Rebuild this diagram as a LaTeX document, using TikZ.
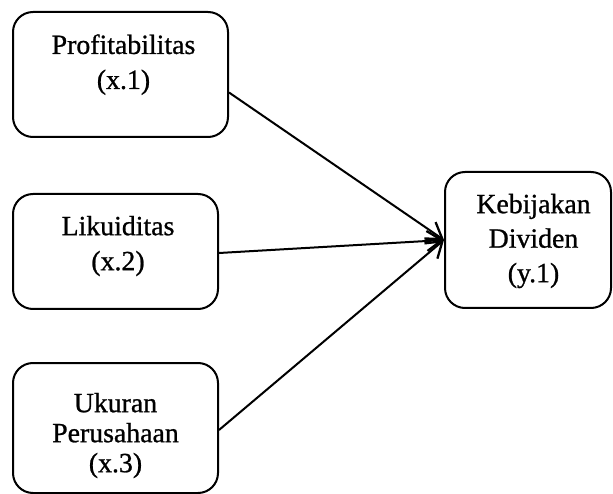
\documentclass[tikz,border=0pt]{standalone}
\usepackage{fontspec}
\setmainfont{Liberation Serif}[RawFeature={embolden=0.9}]
\usetikzlibrary{arrows.meta,positioning}

\begin{document}
\begin{tikzpicture}[x=1pt,y=1pt,line width=2pt,
  varbox/.style={draw,rounded corners=20pt,inner sep=0pt},
  varlbl/.style={align=center,inner sep=0pt,font=\fontsize{27.8}{35}\selectfont},
  >={Straight Barb[length=15pt,width=20pt,line width=2.3pt]}]

\useasboundingbox (0,0) rectangle (613,493);

% boxes (independent variables left, dependent variable right)
\node[varbox,minimum width=215,minimum height=125] (prof) at (120.5,418.5) {};
\node[varbox,minimum width=205,minimum height=115] (liq)  at (115.5,241.5) {};
\node[varbox,minimum width=205,minimum height=130] (size) at (115.5,65) {};
\node[varbox,minimum width=166,minimum height=136] (div)  at (528,253) {};

\node[varlbl] (proft) at (123.5,428.4) {Profitabilitas\\(x.1)};
\node[varlbl] (liqt)  at (118,247) {Likuiditas\\(x.2)};
\node[varlbl,font=\fontsize{27.8}{30}\selectfont] (sizet) at (115.5,57.5) {Ukuran\\Perusahaan\\(x.3)};
\node[varlbl,font=\fontsize{27.8}{34.5}\selectfont] (divt) at (533.5,252) {Kebijakan\\Dividen\\(y.1)};

% arrows into the dependent variable
\draw[->] ([yshift=-18]prof.east) -- (div.west);
\draw[->] ([yshift=-1.5]liq.east) -- (div.west);
\draw[->] ([yshift=-2]size.east) -- (div.west);

\end{tikzpicture}
\end{document}
